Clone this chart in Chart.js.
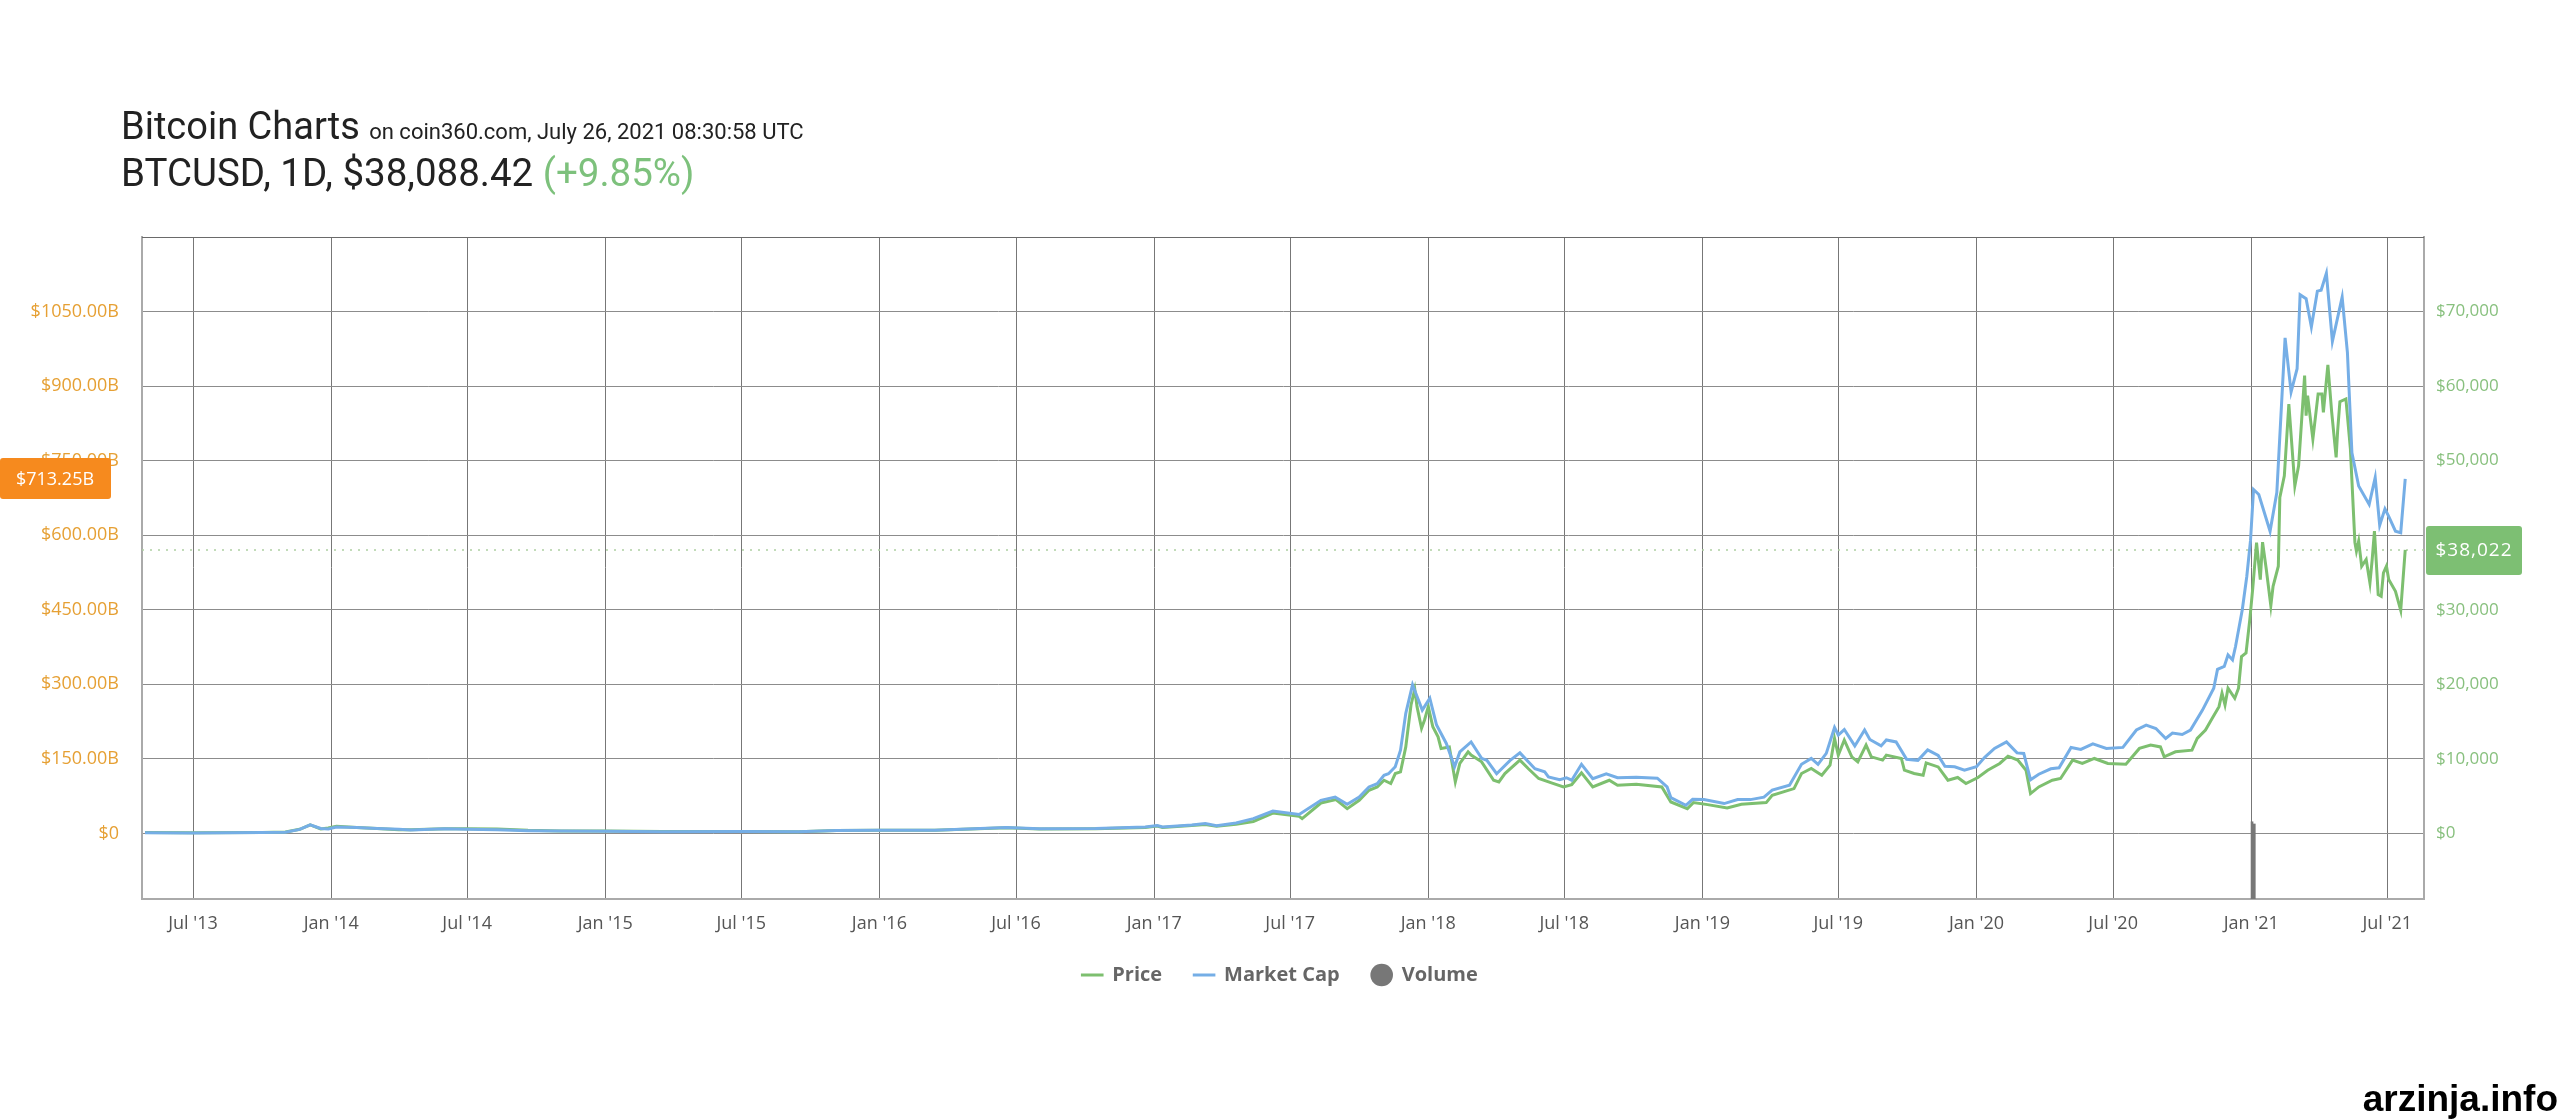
<!DOCTYPE html>
<html><head><meta charset="utf-8">
<script src="https://cdn.jsdelivr.net/npm/chart.js@4.4.1/dist/chart.umd.min.js"></script>
<style>
html,body{margin:0;padding:0;background:#fff;}
#wrap{position:relative;width:2560px;height:1120px;overflow:hidden;background:#fff;}
#c{position:absolute;left:0;top:0;}
.t{position:absolute;left:121px;font-family:Roboto,sans-serif;color:#222;white-space:nowrap;font-size:38px;line-height:38px;}
#t1{top:107px;}
#t2{top:154px;}
#t2{font-size:38.5px;}
.sub{font-size:22px;margin-left:4px;}
.chg{color:#7dc17c;}
#wm{position:absolute;right:2px;top:1080px;font-family:"Liberation Sans",Arial,sans-serif;font-weight:bold;font-size:37px;line-height:37px;color:#000;}
</style></head>
<body>
<div id="wrap">
<canvas id="c" width="2560" height="1120"></canvas>
<div class="t" id="t1">Bitcoin Charts<span class="sub"> on coin360.com, July 26, 2021 08:30:58 UTC</span></div>
<div class="t" id="t2">BTCUSD, 1D, $38,088.42 <span class="chg">(+9.85%)</span></div>
<div id="wm">arzinja.info</div>
</div>
<script>
// ---- data ----
const capDates = ["2013-04-28","2013-07-01","2013-10-01","2013-11-01","2013-11-20","2013-12-04","2013-12-18","2013-12-28","2014-01-08","2014-02-04","2014-03-03","2014-04-01","2014-04-17","2014-06-01","2014-07-01","2014-08-10","2014-09-20","2014-11-02","2015-01-01","2015-03-18","2015-07-01","2015-09-15","2015-11-05","2016-01-01","2016-03-15","2016-06-18","2016-08-01","2016-10-15","2016-12-20","2017-01-05","2017-01-12","2017-02-20","2017-03-10","2017-03-25","2017-04-20","2017-05-13","2017-06-08","2017-07-13","2017-08-11","2017-08-30","2017-09-15","2017-10-01","2017-10-14","2017-10-25","2017-11-03","2017-11-09","2017-11-18","2017-11-25","2017-12-02","2017-12-11","2017-12-24","2018-01-03","2018-01-12","2018-01-25","2018-02-05","2018-02-12","2018-02-27","2018-03-13","2018-03-20","2018-04-02","2018-04-20","2018-05-03","2018-05-23","2018-06-05","2018-06-10","2018-06-25","2018-07-04","2018-07-11","2018-07-24","2018-08-08","2018-08-26","2018-09-10","2018-10-05","2018-11-02","2018-11-15","2018-11-20","2018-12-10","2018-12-19","2019-01-03","2019-01-30","2019-02-17","2019-03-06","2019-03-24","2019-04-04","2019-04-27","2019-05-13","2019-05-26","2019-06-04","2019-06-15","2019-06-26","2019-07-01","2019-07-09","2019-07-23","2019-08-05","2019-08-12","2019-08-27","2019-09-03","2019-09-16","2019-09-30","2019-10-15","2019-10-28","2019-11-11","2019-11-20","2019-12-03","2019-12-16","2020-01-01","2020-01-12","2020-01-25","2020-02-10","2020-02-24","2020-03-04","2020-03-13","2020-03-24","2020-04-09","2020-04-20","2020-05-06","2020-05-19","2020-06-04","2020-06-22","2020-07-14","2020-08-01","2020-08-14","2020-08-27","2020-09-09","2020-09-18","2020-10-01","2020-10-12","2020-10-28","2020-11-12","2020-11-17","2020-11-26","2020-12-01","2020-12-07","2020-12-11","2020-12-20","2020-12-26","2020-12-31","2021-01-04","2021-01-11","2021-01-26","2021-02-04","2021-02-15","2021-02-23","2021-03-03","2021-03-07","2021-03-15","2021-03-22","2021-03-30","2021-04-04","2021-04-11","2021-04-19","2021-05-02","2021-05-09","2021-05-15","2021-05-24","2021-06-07","2021-06-15","2021-06-21","2021-06-28","2021-07-03","2021-07-12","2021-07-19","2021-07-25"];
const capBillions = [1.5,1.0,1.6,2.5,8,17,10,9,13,12,10,8.5,7,9.5,8.5,7.5,5.5,4.8,4.2,3.5,3.8,3.5,6,6.5,6.5,12,9.5,10,13,16,13,17,20,15.5,21,29.7,45,38,66.6,73,58.5,73,93.5,100,117,120,134,167.6,241.6,299,248,272,218,181,134,164,184,151,147,120,147,162,130,124,113.7,108,112,107,139,110,120,112,113,111,93.5,72,56.5,68.6,68,60,68,68,73,87,97,139,151,139,161,213,198,209,176,208,189,176,188,184,149,147,168,157,135,134,127,134,153,171,184,162,161,108,119,130,132,173,169,180,171,173,208,218,211,191,202,199,208,248,292,330,336,359,349,376,450,517,590,692,682,608,686,997,888,935,1084,1076,1019,1091,1093,1127,990,1079,968,766,699,662,716,620,653,638,608,605,713.25];

const priceDates = ["2013-04-28","2013-07-01","2013-10-01","2013-11-01","2013-11-20","2013-12-04","2013-12-18","2013-12-28","2014-01-08","2014-02-04","2014-03-03","2014-04-01","2014-04-17","2014-06-01","2014-07-01","2014-08-10","2014-09-20","2014-11-02","2015-01-01","2015-03-18","2015-07-01","2015-09-15","2015-11-05","2016-01-01","2016-03-15","2016-06-18","2016-08-01","2016-10-15","2016-12-20","2017-01-05","2017-01-12","2017-02-20","2017-03-10","2017-03-25","2017-04-20","2017-05-13","2017-06-08","2017-07-13","2017-07-17","2017-08-11","2017-08-31","2017-09-15","2017-10-01","2017-10-14","2017-10-25","2017-11-03","2017-11-12","2017-11-18","2017-11-25","2017-12-02","2017-12-07","2017-12-09","2017-12-14","2017-12-17","2017-12-23","2017-12-27","2018-01-01","2018-01-07","2018-01-14","2018-01-18","2018-01-29","2018-02-06","2018-02-12","2018-02-23","2018-02-27","2018-03-13","2018-03-29","2018-04-05","2018-04-13","2018-05-03","2018-05-14","2018-05-28","2018-06-14","2018-06-30","2018-07-11","2018-07-24","2018-08-08","2018-08-30","2018-09-10","2018-10-05","2018-11-08","2018-11-20","2018-12-12","2018-12-20","2019-01-08","2019-02-03","2019-02-22","2019-03-27","2019-04-04","2019-05-03","2019-05-13","2019-05-26","2019-06-09","2019-06-20","2019-06-26","2019-07-01","2019-07-09","2019-07-19","2019-07-27","2019-08-07","2019-08-14","2019-08-29","2019-09-03","2019-09-23","2019-09-27","2019-10-10","2019-10-22","2019-10-26","2019-11-11","2019-11-24","2019-12-07","2019-12-18","2020-01-03","2020-01-16","2020-02-01","2020-02-12","2020-02-25","2020-03-07","2020-03-13","2020-03-24","2020-04-11","2020-04-22","2020-05-08","2020-05-21","2020-06-06","2020-06-24","2020-07-18","2020-08-05","2020-08-20","2020-09-02","2020-09-07","2020-09-22","2020-10-14","2020-10-21","2020-11-01","2020-11-10","2020-11-19","2020-11-23","2020-11-27","2020-12-01","2020-12-10","2020-12-15","2020-12-19","2020-12-25","2020-12-30","2021-01-03","2021-01-08","2021-01-13","2021-01-16","2021-01-21","2021-01-27","2021-01-30","2021-02-06","2021-02-08","2021-02-14","2021-02-20","2021-02-28","2021-03-05","2021-03-13","2021-03-15","2021-03-17","2021-03-24","2021-03-31","2021-04-05","2021-04-07","2021-04-13","2021-04-18","2021-04-24","2021-04-26","2021-04-29","2021-05-07","2021-05-13","2021-05-19","2021-05-21","2021-05-24","2021-05-28","2021-06-03","2021-06-08","2021-06-11","2021-06-14","2021-06-19","2021-06-23","2021-06-26","2021-06-30","2021-07-03","2021-07-12","2021-07-19","2021-07-25"];
const priceUsd = [135,90,125,200,550,1150,600,730,950,800,650,480,500,630,640,590,410,330,320,260,260,230,400,430,415,760,600,640,800,1000,800,1050,1200,950,1230,1600,2730,2290,1980,4080,4530,3320,4440,5790,6230,7130,6690,8030,8250,11600,15650,17230,19340,17000,14090,15210,17000,14300,12960,11400,11600,6900,9380,10940,10500,9600,7130,6900,8030,9830,8700,7360,6770,6230,6550,8120,6230,7130,6460,6600,6230,4210,3320,4130,3860,3410,3900,4130,5110,6010,8030,8700,7810,9150,12740,10500,12520,10270,9600,11840,10270,9830,10500,10050,8480,8030,7810,9460,8920,7130,7500,6690,7500,8480,9380,10360,9830,8480,5340,6230,7130,7360,9830,9380,10050,9380,9290,11400,11840,11600,10270,10940,11170,12740,13860,15430,17000,18800,17230,19470,18130,19470,23730,24190,28670,32930,38990,34050,39070,35400,30550,33150,35840,45050,47960,57600,46610,49300,61410,56030,58720,52890,58950,58950,56490,62850,56570,50430,54010,57910,58280,51550,39000,37860,39200,35840,36740,33600,36740,40550,32030,31800,34950,35840,34050,32480,29920,38022];

const volumeDates = ["2021-01-02","2021-01-05"];
const volumeBillions = [70,68];

const tickDates = ["2013-07-01","2014-01-01","2014-07-01","2015-01-01","2015-07-01","2016-01-01","2016-07-01","2017-01-01","2017-07-01","2018-01-01","2018-07-01","2019-01-01","2019-07-01","2020-01-01","2020-07-01","2021-01-01","2021-07-01"];
const tickLabels = ["Jul '13","Jan '14","Jul '14","Jan '15","Jul '15","Jan '16","Jul '16","Jan '17","Jul '17","Jan '18","Jul '18","Jan '19","Jul '19","Jan '20","Jul '20","Jan '21","Jul '21"];
const capTicks = [0,150,300,450,600,750,900,1050];
const priceTicks = [0,10000,20000,30000,40000,50000,60000,70000];

const xMin = "2013-04-24", xMax = "2021-08-19";
const capMin = -132, capMax = 1200;
const priceMin = -8800, priceMax = 80000;

// ---- build ----
const ts = d => Date.parse(d + "T00:00:00Z");
const priceData = priceDates.map((d,i)=>({x:ts(d),y:priceUsd[i]}));
const capData = capDates.map((d,i)=>({x:ts(d),y:capBillions[i]}));
const volData = volumeDates.map((d,i)=>({x:ts(d),y:volumeBillions[i]}));
const lastPrice = priceUsd[priceUsd.length-1];
const lastCap = capBillions[capBillions.length-1];

const GREEN = '#7dbf6f', BLUE = '#75aee6';

const framePlugin = {
  id:'frame',
  beforeDatasetsDraw(chart){
    const {ctx, chartArea:a} = chart;
    ctx.save();
    ctx.strokeStyle = '#6a6a6a'; ctx.lineWidth = 1.2;
    ctx.beginPath(); ctx.moveTo(a.left, a.top+0.5); ctx.lineTo(a.right, a.top+0.5); ctx.stroke();
    const y = chart.scales.y1.getPixelForValue(lastPrice);
    ctx.strokeStyle = '#aed0a2'; ctx.lineWidth = 1.5; ctx.setLineDash([2,6]);
    ctx.beginPath(); ctx.moveTo(a.left, y); ctx.lineTo(a.right, y); ctx.stroke();
    ctx.restore();
  },
  afterDraw(chart){
    const {ctx, chartArea:a} = chart;
    ctx.save();
    const yc = chart.scales.y.getPixelForValue(lastCap);
    ctx.fillStyle = '#f68a1e';
    ctx.beginPath(); ctx.roundRect(0, yc-21, 111, 41, 3); ctx.fill();
    ctx.fillStyle = '#fff'; ctx.font = '18px "Open Sans"'; ctx.textAlign='center'; ctx.textBaseline='middle';
    ctx.fillText('$' + lastCap.toFixed(2) + 'B', 55, yc+1);
    const yp = chart.scales.y1.getPixelForValue(lastPrice);
    ctx.fillStyle = '#7dbf73';
    ctx.beginPath(); ctx.roundRect(a.right+2, yp-24, 96, 49, 3); ctx.fill();
    ctx.fillStyle = '#fff'; ctx.font = '19px "Open Sans"';
    if ('letterSpacing' in ctx) ctx.letterSpacing = '1px';
    ctx.fillText('$' + lastPrice.toLocaleString('en-US'), a.right+2+48, yp+1);
    ctx.restore();
  }
};

function build(){
  new Chart(document.getElementById('c'), {
    type:'line',
    data:{datasets:[
      {label:'Price', data:priceData, yAxisID:'y1', borderColor:GREEN, backgroundColor:GREEN, borderWidth:3, pointRadius:0, pointStyle:'line', tension:0, order:2},
      {label:'Market Cap', data:capData, yAxisID:'y', borderColor:BLUE, backgroundColor:BLUE, borderWidth:3, pointRadius:0, pointStyle:'line', tension:0, order:1},
      {label:'Volume', type:'bar', data:volData, yAxisID:'yv', backgroundColor:'#777', borderWidth:0, barThickness:2, pointStyle:'circle', order:3}
    ]},
    options:{
      responsive:false, devicePixelRatio:1, animation:false, events:[],
      layout:{padding:{top:237,left:0,right:0,bottom:125}},
      scales:{
        x:{type:'linear', min:ts(xMin), max:ts(xMax), offset:false,
          afterBuildTicks:s=>{s.ticks = tickDates.map(d=>({value:ts(d)}));},
          afterFit:s=>{s.height = 34;},
          grid:{color:'#777', lineWidth:1, drawTicks:false, offset:false},
          border:{display:true, color:'#aaa', width:2},
          ticks:{autoSkip:false, maxRotation:0, padding:14, color:'#555', font:{family:'Open Sans', size:18},
            callback:(v,i)=>tickLabels[i]}
        },
        y:{position:'left', min:capMin, max:capMax,
          afterBuildTicks:s=>{s.ticks = capTicks.map(v=>({value:v}));},
          afterFit:s=>{s.width = 142;},
          grid:{color:'#8c8c8c', lineWidth:1, drawTicks:false},
          border:{display:true, color:'#aaa', width:2},
          ticks:{padding:23, color:'#e6a034', font:{family:'Open Sans', size:18},
            callback:v=> v===0 ? '$0' : '$' + v.toFixed(2) + 'B'}
        },
        y1:{position:'right', min:priceMin, max:priceMax,
          afterBuildTicks:s=>{s.ticks = priceTicks.map(v=>({value:v}));},
          afterFit:s=>{s.width = 136;},
          grid:{drawOnChartArea:false, drawTicks:false},
          border:{display:true, color:'#aaa', width:2},
          ticks:{padding:12, color:'#88c07e', font:{family:'Open Sans', size:17},
            callback:v=> '$' + v.toLocaleString('en-US')}
        },
        yv:{display:false, min:0, max:600}
      },
      plugins:{
        legend:{position:'bottom', align:'center',
          labels:{usePointStyle:true, boxHeight:16, padding:32, color:'#666',
            font:{family:'Open Sans', size:20, weight:'bold'},
            sort:(a,b)=>a.datasetIndex-b.datasetIndex}
        },
        tooltip:{enabled:false}
      }
    },
    plugins:[framePlugin]
  });
}
Promise.all([
  document.fonts.load('18px "Open Sans"'),
  document.fonts.load('bold 20px "Open Sans"'),
  document.fonts.load('38px Roboto')
]).then(build, build);
</script>
</body></html>
